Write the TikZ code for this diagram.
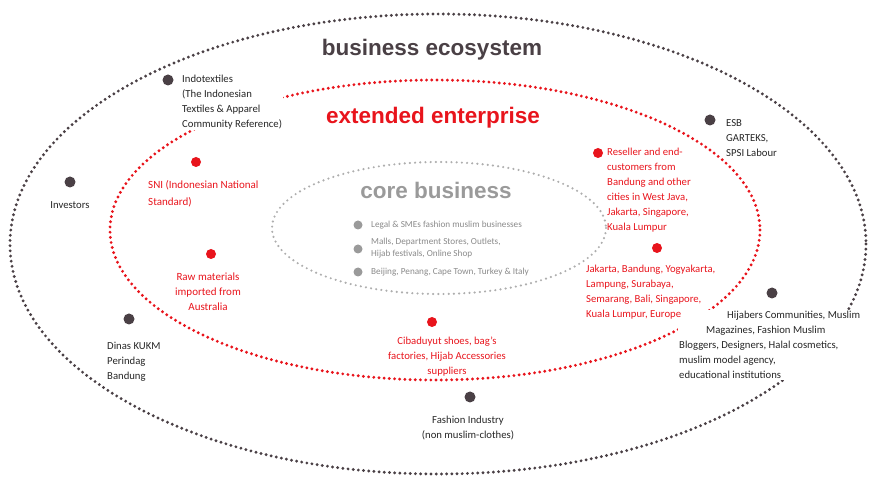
\documentclass[tikz,border=0pt]{standalone}
\usepackage{fontspec}
\setmainfont{Carlito}
\newfontfamily\titlefont{Liberation Sans}
\definecolor{darkdot}{HTML}{4A4045}
\definecolor{redmark}{HTML}{E8141C}
\definecolor{coregray}{HTML}{9A9A9A}
\definecolor{coretext}{HTML}{8A8A8A}
\tikzset{
  ringline/.style={line width=3.2pt, line cap=round, dash pattern=on 0pt off 5.2pt},
  blackdot/.style={circle, fill=darkdot, inner sep=0pt, minimum size=11pt},
  reddot/.style={circle, fill=redmark, inner sep=0pt, minimum size=10pt},
  graydot/.style={circle, fill=coregray, inner sep=0pt, minimum size=9pt},
  itemtext/.style={font=\fontsize{10.7}{15}\selectfont, align=left, inner sep=1pt, text=black!85},
  redtext/.style={itemtext, text=redmark},
  coreitem/.style={font=\fontsize{9.2}{11.5}\selectfont, align=left, inner sep=1pt, text=coretext},
  ringtitle/.style={font=\titlefont\bfseries\fontsize{22.5}{26}\selectfont, inner sep=0pt}
}
\begin{document}
\begin{tikzpicture}[x=1pt, y=-1pt]
  \useasboundingbox (0,0) rectangle (876,478);
  %
  % the three rings
  \draw[ringline, darkdot] (438,244) ellipse [x radius=428, y radius=230];
  \draw[ringline, redmark] (435,230) ellipse [x radius=325, y radius=150];
  \draw[ringline, coregray!80, line width=2.4pt] (439,228) ellipse [x radius=167, y radius=66];
  %
  \node[ringtitle, text=darkdot] (ecotitle) at (432,50) {business ecosystem};
  \node[ringtitle, text=redmark] (exttitle) at (433,118) {extended enterprise};
  \node[ringtitle, text=coregray] (coretitle) at (436,190) {core business};
  %
  % business ecosystem
  \node[blackdot] (indodot) at (168,80) {};
  \node[itemtext, fill=white, anchor=west] (indotext) at (181,102)
    {Indotextiles\\(The Indonesian\\Textiles \& Apparel\\Community Reference)};
  \node[blackdot] (esbdot) at (710,120) {};
  \node[itemtext, anchor=west] (esbtext) at (725,138) {ESB\\GARTEKS,\\SPSI Labour};
  \node[blackdot] (invdot) at (70,182) {};
  \node[itemtext] (invtext) at (70,205) {Investors};
  \node[blackdot] (dinasdot) at (129,319) {};
  \node[itemtext, anchor=west] (dinastext) at (106,362) {Dinas KUKM\\Perindag\\Bandung};
  \node[blackdot] (hijdot) at (772,293) {};
  \node[itemtext, fill=white, anchor=west] (hijtext) at (678,345)
    {\hspace*{48pt}Hijabers Communities, Muslim\\\hspace*{27pt}Magazines, Fashion Muslim\\Bloggers, Designers, Halal cosmetics,\\muslim model agency,\\educational institutions};
  \node[blackdot] (fashdot) at (470,397) {};
  \node[itemtext, align=center] (fashtext) at (468,428) {Fashion Industry\\(non muslim-clothes)};
  %
  % extended enterprise
  \node[reddot] (snidot) at (196,162) {};
  \node[redtext, font=\fontsize{11}{17}\selectfont, anchor=west] (snitext) at (147,194)
    {SNI (Indonesian National\\Standard)};
  \node[reddot] (rawdot) at (211,254) {};
  \node[redtext, font=\fontsize{11}{15}\selectfont, align=center] (rawtext) at (208,292)
    {Raw materials\\imported from\\Australia};
  \node[reddot] (resdot) at (598,153) {};
  \node[redtext, anchor=west] (restext) at (606,190)
    {Reseller and end-\\customers from\\Bandung and other\\cities in West Java,\\Jakarta, Singapore,\\Kuala Lumpur};
  \node[reddot] (citydot) at (657,248) {};
  \node[redtext, anchor=west] (citytext) at (585,292)
    {Jakarta, Bandung, Yogyakarta,\\Lampung, Surabaya,\\Semarang, Bali, Singapore,\\Kuala Lumpur, Europe};
  \node[reddot] (cibdot) at (432,322) {};
  \node[redtext, align=center] (cibtext) at (447,357)
    {Cibaduyut shoes, bag's\\factories, Hijab Accessories\\suppliers};
  %
  % core business
  \node[graydot] (legaldot) at (358,225) {};
  \node[coreitem, anchor=west] (legaltext) at (370,225) {Legal \& SMEs fashion muslim businesses};
  \node[graydot] (malldot) at (358,249) {};
  \node[coreitem, anchor=west] (malltext) at (370,248) {Malls, Department Stores, Outlets,\\Hijab festivals, Online Shop};
  \node[graydot] (citcoredot) at (358,272) {};
  \node[coreitem, anchor=west] (citcoretext) at (370,272) {Beijing, Penang, Cape Town, Turkey \& Italy};
  %
\end{tikzpicture}
\end{document}
